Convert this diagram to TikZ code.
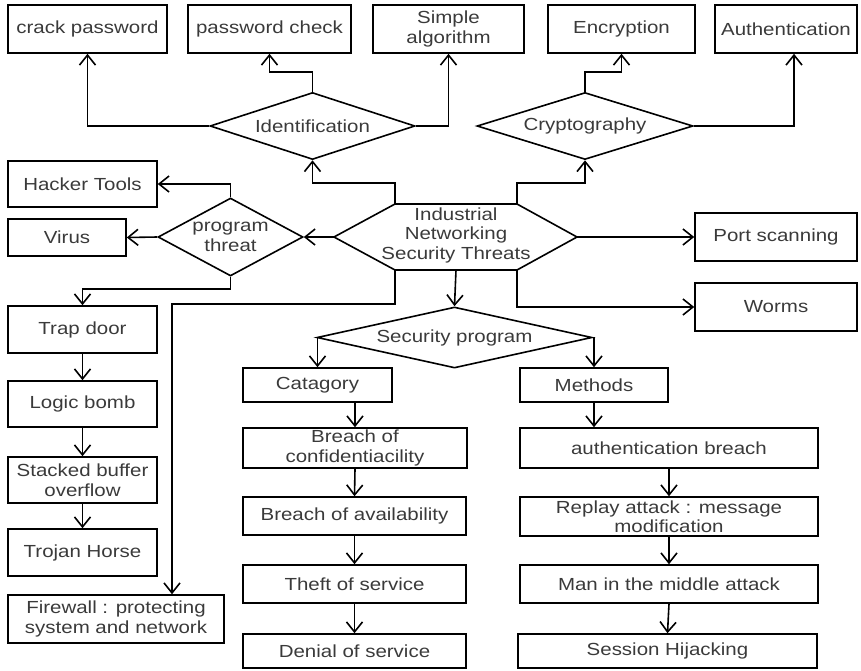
\documentclass[tikz,border=0pt]{standalone}
\usepackage{fontspec}
\setmainfont{Liberation Sans}[FakeStretch=1.17]
\usetikzlibrary{arrows.meta,shapes.geometric}
\definecolor{ink}{HTML}{3A3A3A}
\begin{document}
\begin{tikzpicture}[x=1pt,y=-1pt,
  every node/.style={font=\fontsize{17.5}{19.5}\selectfont, text=ink, inner sep=0pt, align=center},
  box/.style={draw=black, line width=1.6pt, rectangle},
  decision/.style={draw=black, line width=1.6pt, diamond},
  link/.style={line width=1.6pt, -{Straight Barb[length=10pt,width=16pt,line width=1.6pt]}},
  outline/.style={line width=1.6pt, line join=miter}]
\useasboundingbox (0,0) rectangle (861,670);

% top row of outcomes
\node[box, minimum width=159, minimum height=48] (crack) at (87.5,29) {crack password};
\node[box, minimum width=163, minimum height=48] (pwcheck) at (269.5,29) {password check};
\node[box, minimum width=151, minimum height=48] (simple) at (448.5,29) {Simple\\algorithm};
\node[box, minimum width=147, minimum height=48] (encrypt) at (621.5,29) {Encryption};
\node[box, minimum width=142, minimum height=48] (authn) at (786,29) {Authentication};

% decisions
\node[decision, minimum width=205, minimum height=67, aspect=3.06] (ident) at (312.5,126) {Identification};
\node[decision, minimum width=216, minimum height=67, aspect=3.22] (crypto) at (585,126) {Cryptography};
\node[decision, minimum width=145, minimum height=78, aspect=1.86] (pthreat) at (230.5,237) {program\\threat};
\node[decision, minimum width=275, minimum height=61, aspect=4.5] (secprog) at (454.5,337.5) {Security program};

% central hexagon
\coordinate (hubL) at (334,237);
\coordinate (hubTL) at (395,204);
\coordinate (hubTR) at (517,204);
\coordinate (hubR) at (577,237);
\coordinate (hubBR) at (517,270);
\coordinate (hubBL) at (395,270);
\coordinate (hubB) at (456,270);
\node (hub) at (456,235) {Industrial\\Networking\\Security Threats};
\draw[outline] (hubL) -- (hubTL) -- (hubTR) -- (hubR) -- (hubBR) -- (hubBL) -- cycle;

% left column
\node[box, minimum width=149, minimum height=46] (hacker) at (82.5,184) {Hacker Tools};
\node[box, minimum width=118, minimum height=37] (virus) at (67,237.5) {Virus};
\node[box, minimum width=149, minimum height=47] (trap) at (82.5,329.5) {Trap door};
\node[box, minimum width=149, minimum height=46] (logic) at (82.5,404) {Logic bomb};
\node[box, minimum width=149, minimum height=46] (stacked) at (82.5,480) {Stacked buffer\\overflow};
\node[box, minimum width=149, minimum height=47] (trojan) at (82.5,552.5) {Trojan Horse};
\node[box, minimum width=216, minimum height=48] (firewall) at (116,619) {Firewall : protecting\\system and network};

% right side
\node[box, minimum width=162, minimum height=48] (port) at (776,237) {Port scanning};
\node[box, minimum width=162, minimum height=48] (worms) at (776,307) {Worms};

% security program branches
\node[box, minimum width=149, minimum height=34] (catag) at (317.5,385) {Catagory};
\node[box, minimum width=148, minimum height=34] (methods) at (594,385) {Methods};
\node[box, minimum width=224, minimum height=40] (conf) at (355,448) {Breach of\\confidentiacility};
\node[box, minimum width=223, minimum height=38] (avail) at (354.5,516) {Breach of availability};
\node[box, minimum width=223, minimum height=38] (theft) at (354.5,584) {Theft of service};
\node[box, minimum width=223, minimum height=34] (denial) at (354.5,651) {Denial of service};
\node[box, minimum width=298, minimum height=40] (authbr) at (669,448) {authentication breach};
\node[box, minimum width=298, minimum height=39] (replay) at (669,516.5) {Replay attack : message\\modification};
\node[box, minimum width=298, minimum height=38] (mitm) at (669,584) {Man in the middle attack};
\node[box, minimum width=299, minimum height=34] (session) at (667.5,651) {Session Hijacking};

% connectors: upper part
\draw[link] (ident.west) -| (crack.south);
\draw[link] (ident.north) -- ++(0,-20) -| (pwcheck.south);
\draw[link] (ident.east) -| (simple.south);
\draw[link] (crypto.north) -- ++(0,-20) -| (encrypt.south);
\draw[link] (crypto.east) -| ([xshift=8pt]authn.south);
\draw[link] (hubTL) -- ++(0,-21) -| (ident.south);
\draw[link] (hubTR) -- ++(0,-21) -| (crypto.south);

% connectors: sides of the hexagon
\draw[link] (hubL) -- (pthreat.east);
\draw[link] (hubR) -- (port.west);
\draw[link] (hubBR) |- (worms.west);
\draw[link] (hubB) -- (secprog.north);
\coordinate (fwbend) at (172,304);
\draw[link] (hubBL) |- (fwbend) -- (fwbend |- firewall.north);

% program threat chain
\draw[link] (pthreat.north) |- (hacker.east);
\draw[link] (pthreat.west) -- (virus.east);
\draw[link] (pthreat.south) -- ++(0,12) -| (trap.north);
\draw[link] (trap.south) -- (logic.north);
\draw[link] (logic.south) -- (stacked.north);
\draw[link] (stacked.south) -- (trojan.north);

% security program chains
\draw[link] (secprog.west) -| (catag.north);
\draw[link] (secprog.east) -| (methods.north);
\draw[link] (catag.south -| conf.north) -- (conf.north);
\draw[link] (conf.south) -- (avail.north);
\draw[link] (avail.south) -- (theft.north);
\draw[link] (theft.south) -- (denial.north);
\draw[link] (methods.south) -- (methods.south |- authbr.north);
\draw[link] (authbr.south) -- (replay.north);
\draw[link] (replay.south) -- (mitm.north);
\draw[link] (mitm.south) -- (session.north);
\end{tikzpicture}
\end{document}
